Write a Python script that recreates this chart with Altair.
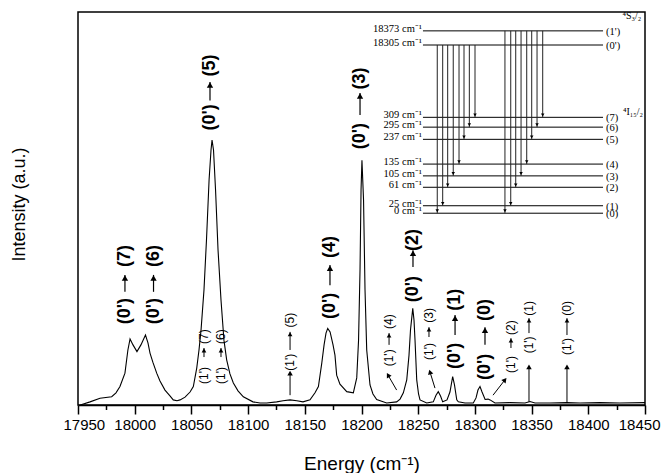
import altair as alt
import pandas as pd

# ---------------- spectrum ----------------
energy = [17952, 17960.6, 17969.4, 17979.7, 17983.5, 17987, 17991.4, 17994, 17995.9, 17998.5,
          18002, 18005.5, 18009.5, 18011.7, 18013.5, 18016, 18019.4, 18022.3, 18026.7, 18031.1,
          18034, 18037.3, 18040, 18044.4, 18048.8, 18051.7, 18054.7, 18056.7, 18058.5, 18061.1,
          18063.3, 18065.6, 18067.3, 18068.2, 18069.5, 18071.3, 18073.5, 18076.1, 18078.7, 18081.1,
          18084, 18087, 18091.1, 18095.8, 18104.3, 18110.5, 18116.4, 18125.2, 18130.8, 18137,
          18143, 18148.4, 18154.6, 18159, 18162, 18165, 18167, 18168.7, 18170.2, 18172.3,
          18174.9, 18176.6, 18178.1, 18181, 18187, 18192.8, 18195.8, 18197.4, 18198.7, 18199.6,
          18200.4, 18201.8, 18203.1, 18204.6, 18207.5, 18210.1, 18213.4, 18222.2, 18231, 18234,
          18236.9, 18239.9, 18241.9, 18243.2, 18245.2, 18246.3, 18247.2, 18248.7, 18250.3, 18251.6,
          18257.5, 18263.3, 18265.7, 18267.7, 18269.7, 18271.6, 18275.4, 18278, 18280.4, 18282,
          18284, 18285.4, 18291.3, 18298.6, 18301, 18302.7, 18304.5, 18306.3, 18309, 18311.6,
          18313.4, 18317.7, 18331, 18344.2, 18348.6, 18353, 18366.2, 18381, 18392.7, 18410.3,
          18427.9, 18450]
intensity = [0.0, 0.8, 1.7, 2.1, 3.1, 4.7, 8.1, 14.0, 16.8, 15.3,
             13.6, 15.3, 17.8, 15.8, 13.2, 10.9, 8.1, 6.1, 3.8, 2.3,
             1.3, 1.1, 1.3, 2.0, 3.3, 4.7, 9.4, 14.0, 19.1, 29.3,
             42.0, 57.3, 64.9, 67.4, 64.9, 54.7, 39.4, 26.7, 16.5, 11.5,
             7.9, 5.6, 3.6, 2.1, 0.8, 0.5, 0.5, 0.8, 1.1, 1.3,
             1.1, 0.8, 1.3, 3.1, 4.7, 10.7, 15.3, 18.3, 19.5, 18.6,
             15.3, 12.7, 7.6, 5.3, 3.4, 3.1, 6.9, 16.5, 34.4, 54.7,
             62.3, 52.2, 29.3, 14.0, 5.1, 2.8, 1.4, 0.5, 0.8, 1.5,
             3.1, 6.4, 12.7, 19.1, 24.6, 21.6, 16.5, 6.4, 2.8, 1.3,
             0.5, 0.8, 2.5, 3.4, 2.3, 0.8, 1.3, 3.3, 7.2, 5.1,
             1.3, 0.8, 0.5, 0.5, 1.8, 3.8, 4.7, 3.3, 1.4, 1.5,
             1.3, 0.5, 0.6, 0.5, 0.9, 0.5, 0.5, 0.6, 0.5, 0.6,
             0.5, 0.6]

# ---------------- transition labels (0') -> (n) ----------------
big_x = [17991.4, 18016.6, 18066.4, 18172.2, 18198.7, 18245.4, 18282.5, 18308.9]
big_lower = ["(0')"] * 8
big_upper = ["(7)", "(6)", "(5)", "(4)", "(3)", "(2)", "(1)", "(0)"]
big_lower_y = [23.9, 23.9, 73.2, 25.2, 68.4, 29.5, 12.5, 9.7]
big_upper_y = [37.9, 37.9, 86.4, 40.2, 83.1, 42.0, 26.8, 24.2]
big_arrow_from = [28.8, 28.8, 77.5, 30.5, 73.8, 35.1, 17.8, 15.3]
big_arrow_to = [33.1, 33.1, 82.2, 35.6, 79.4, 39.4, 22.9, 19.8]

# ---------------- transition labels (1') -> (n) ----------------
small_x = [18061.1, 18076.1, 18137.0, 18224.3, 18259.5, 18331.8, 18347.7, 18381.2]
small_lower = ["(1')"] * 8
small_upper = ["(7)", "(6)", "(5)", "(4)", "(3)", "(2)", "(1)", "(0)"]
small_lower_y = [7.5, 7.5, 10.9, 12.0, 13.6, 10.3, 15.3, 14.9]
small_upper_y = [17.4, 17.4, 21.6, 21.2, 22.8, 19.7, 24.6, 24.6]
small_arrow_from = [12.2, 12.2, 14.0, 15.3, 17.3, 14.5, 18.3, 17.8]
small_arrow_to = [14.5, 14.5, 18.6, 18.3, 19.8, 17.0, 22.1, 22.1]

# pointer arrows from the weak bands up to their labels
ptr_x = [18137.0, 18231.0, 18264.8, 18316.0, 18347.7, 18381.2]
ptr_y = [2.5, 3.8, 4.3, 2.5, 0.8, 0.5]
ptr_x2 = [18137.0, 18223.4, 18260.4, 18326.5, 18347.7, 18381.2]
ptr_y2 = [8.1, 7.6, 8.4, 6.4, 9.7, 9.7]
ptr_angle = [0, 330, 343, 39, 0, 0]

# ---------------- inset energy-level diagram ----------------
level_left = ["18373 cm⁻¹", "18305 cm⁻¹", "309 cm⁻¹", "295 cm⁻¹", "237 cm⁻¹",
              "135 cm⁻¹", "105 cm⁻¹", "61 cm⁻¹", "25 cm⁻¹", "0 cm⁻¹"]
level_right = ["(1')", "(0')", "(7)", "(6)", "(5)", "(4)", "(3)", "(2)", "(1)", "(0)"]
level_y = [95.2, 91.6, 73.2, 70.7, 67.6, 61.3, 58.3, 55.4, 50.7, 48.8]
level_x_start = 18254.2
level_x_end = 18413.0

arrow0_x = [18266.8, 18271.6, 18276.0, 18280.9, 18286.0, 18290.4, 18295.1, 18300.1]
arrow1_x = [18326.5, 18331.6, 18336.0, 18340.7, 18345.7, 18350.1, 18354.8, 18359.8]
arrow_target_y = [48.8, 50.7, 55.4, 58.3, 61.3, 67.6, 70.7, 73.2]
arrow0_start = 91.6
arrow1_start = 95.2

term_text = ["⁴S₃/₂", "⁴I₁₅/₂"]
term_x = [18438.5, 18439.4]
term_y = [99.0, 74.6]

# ---------------- build chart ----------------
xs = alt.Scale(domain=[17950, 18450], nice=False, zero=False)
ys = alt.Scale(domain=[0, 100], nice=False, zero=False)
SANS = "Liberation Sans"
SERIF = "Liberation Serif"
X_TITLE = "Energy (cm⁻¹)"
Y_TITLE = "Intensity (a.u.)"

x_axis = alt.Axis(values=list(range(17950, 18451, 25)), format="d",
                  labelExpr="datum.value % 50 === 0 ? datum.label : ''",
                  tickSize={"condition": {"test": "datum.value % 50 === 0", "value": 9}, "value": 4.5},
                  tickWidth=1.5, tickColor="black", domainColor="black", domainWidth=1.5,
                  labelFont=SANS, labelFontSize=15, labelColor="black", labelPadding=3,
                  labelOverlap=False, labelFlush=True, labelFlushOffset=15, grid=False,
                  titleFont=SANS, titleFontSize=19, titleFontWeight="normal",
                  titleColor="black", titlePadding=22)
y_axis = alt.Axis(labels=False, ticks=False, domain=False, grid=False,
                  titleFont=SANS, titleFontSize=18, titleFontWeight="normal",
                  titleColor="black", titlePadding=50, titleY=192)


def X(f):
    return alt.X(f, type="quantitative", scale=xs, axis=x_axis, title=X_TITLE)


def Y(f):
    return alt.Y(f, type="quantitative", scale=ys, axis=y_axis, title=Y_TITLE)


spec_df = pd.DataFrame({"energy": energy, "intensity": intensity})
line = alt.Chart(spec_df).mark_line(color="black", strokeWidth=1.1).encode(
    x=X("energy"), y=Y("intensity"))

big_df = pd.DataFrame({"x": big_x, "lo": big_lower, "hi": big_upper, "lo_y": big_lower_y,
                       "hi_y": big_upper_y, "a0": big_arrow_from, "a1": big_arrow_to})
big_lo = alt.Chart(big_df).mark_text(angle=270, font=SANS, fontSize=18, fontWeight="bold",
                                     align="center", baseline="middle", color="black").encode(
    x=X("x"), y=Y("lo_y"), text="lo:N")
big_hi = alt.Chart(big_df).mark_text(angle=270, font=SANS, fontSize=18, fontWeight="bold",
                                     align="center", baseline="middle", color="black").encode(
    x=X("x"), y=Y("hi_y"), text="hi:N")
big_ar = alt.Chart(big_df).mark_rule(color="black", strokeWidth=1.2).encode(
    x=X("x"), y=Y("a0"), y2="a1:Q")
big_head = alt.Chart(big_df).transform_calculate(h="datum.a1 - 0.8").mark_point(
    shape="triangle-up", filled=True, color="black", size=40, opacity=1).encode(
    x=X("x"), y=Y("h:Q"))

small_df = pd.DataFrame({"x": small_x, "lo": small_lower, "hi": small_upper, "lo_y": small_lower_y,
                         "hi_y": small_upper_y, "a0": small_arrow_from, "a1": small_arrow_to})
small_lo = alt.Chart(small_df).mark_text(angle=270, font=SANS, fontSize=12,
                                         align="center", baseline="middle", color="black").encode(
    x=X("x"), y=Y("lo_y"), text="lo:N")
small_hi = alt.Chart(small_df).mark_text(angle=270, font=SANS, fontSize=12,
                                         align="center", baseline="middle", color="black").encode(
    x=X("x"), y=Y("hi_y"), text="hi:N")
small_ar = alt.Chart(small_df).mark_rule(color="black", strokeWidth=1).encode(
    x=X("x"), y=Y("a0"), y2="a1:Q")
small_head = alt.Chart(small_df).transform_calculate(h="datum.a1 - 0.6").mark_point(
    shape="triangle-up", filled=True, color="black", size=22, opacity=1).encode(
    x=X("x"), y=Y("h:Q"))

ptr_df = pd.DataFrame({"x": ptr_x, "y": ptr_y, "x2": ptr_x2, "y2": ptr_y2, "ang": ptr_angle})
ptr_rule = alt.Chart(ptr_df).mark_rule(color="black", strokeWidth=1).encode(
    x=X("x"), y=Y("y"), x2="x2:Q", y2="y2:Q")
ptr_head = alt.Chart(ptr_df).mark_point(shape="triangle-up", filled=True, color="black",
                                        size=30, opacity=1).encode(
    x=X("x2"), y=Y("y2"), angle=alt.Angle("ang:Q", scale=None))

lvl_df = pd.DataFrame({"y": level_y, "left": level_left, "right": level_right,
                       "x0": [level_x_start] * len(level_y), "x1": [level_x_end] * len(level_y)})
lvl_rule = alt.Chart(lvl_df).mark_rule(color="black", strokeWidth=1).encode(
    x=X("x0"), x2="x1:Q", y=Y("y"))
lvl_left = alt.Chart(lvl_df).mark_text(font=SERIF, fontSize=10.5, align="right",
                                       baseline="alphabetic", dy=1, dx=-1, color="black").encode(
    x=X("x0"), y=Y("y"), text="left:N")
lvl_right = alt.Chart(lvl_df).mark_text(font=SERIF, fontSize=10.5, align="left",
                                        baseline="middle", dx=3, dy=1, color="black").encode(
    x=X("x1"), y=Y("y"), text="right:N")

arr_df = pd.DataFrame({
    "x": arrow0_x + arrow1_x,
    "y0": [arrow0_start] * len(arrow0_x) + [arrow1_start] * len(arrow1_x),
    "y1": arrow_target_y + arrow_target_y,
})
arr_rule = alt.Chart(arr_df).mark_rule(color="#222222", strokeWidth=1).encode(
    x=X("x"), y=Y("y0"), y2="y1:Q")
arr_head = alt.Chart(arr_df).transform_calculate(h="datum.y1 + 0.6").mark_point(
    shape="triangle-down", filled=True, color="black", size=12, opacity=1).encode(
    x=X("x"), y=Y("h:Q"))

term_df = pd.DataFrame({"t": term_text, "x": term_x, "y": term_y})
term = alt.Chart(term_df).mark_text(font=SERIF, fontSize=10, align="center", baseline="middle",
                                    color="black").encode(x=X("x"), y=Y("y"), text="t:N")

chart = alt.layer(
    line, big_ar, big_head, big_lo, big_hi, small_ar, small_head, small_lo, small_hi,
    ptr_rule, ptr_head, lvl_rule, arr_rule, arr_head, lvl_left, lvl_right, term
).properties(
    width=567, height=393,
    padding={"left": 70, "top": 4, "right": 16, "bottom": 68},
    autosize=alt.AutoSizeParams(type="none"),
    background="white",
).configure_view(stroke="black", strokeWidth=1.5)

chart.save("out.html", embed_options={"renderer": "svg", "actions": False})
